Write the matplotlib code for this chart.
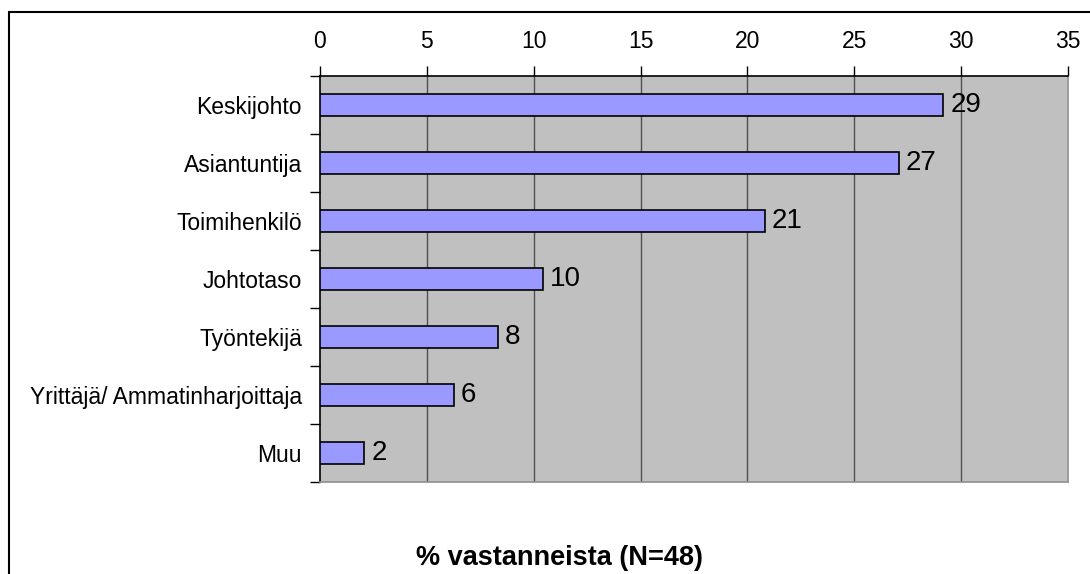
import numpy as np
import matplotlib
matplotlib.use('Agg')
import matplotlib.pyplot as plt
from matplotlib.patches import Rectangle

plt.rcParams['font.family'] = ['Liberation Sans', 'DejaVu Sans']

# data (percent of respondents, N=48)
categories = ['Keskijohto', 'Asiantuntija', 'Toimihenkilö', 'Johtotaso',
              'Työntekijä', 'Yrittäjä/ Ammatinharjoittaja', 'Muu']
values = [29.17, 27.08, 20.83, 10.42, 8.33, 6.25, 2.08]
value_labels = ['29', '27', '21', '10', '8', '6', '2']
xticks = [0, 5, 10, 15, 20, 25, 30, 35]
xlabel = '% vastanneista (N=48)'

W, H = 1090, 574
fig = plt.figure(figsize=(W / 100, H / 100), dpi=100)

# outer chart frame (cut off on right/bottom like the original)
fig.patches.append(Rectangle((9 / W, -0.1), 1.2, 1 - 12 / H + 0.1,
                             transform=fig.transFigure, fill=False,
                             edgecolor='black', linewidth=1.5))

ax = fig.add_axes([320 / W, 1 - 482 / H, (1068 - 320) / W, (482 - 76) / H])
ax.set_facecolor('#c0c0c0')

y = np.arange(len(categories))
ax.barh(y, values, height=0.38, color='#9999ff', edgecolor='black',
        linewidth=1.2, zorder=3)

for yi, v, lab in zip(y, values, value_labels):
    ax.annotate(lab, (v, yi), xytext=(5, 0), textcoords='offset points',
                va='center', ha='left', fontsize=20, zorder=4)

ax.set_xlim(0, 35)
ax.set_ylim(len(categories) - 0.5, -0.5)

ax.xaxis.tick_top()
ax.set_xticks(xticks)
ax.set_xticklabels([str(t) for t in xticks], fontsize=16.5)
ax.tick_params(axis='x', direction='out', length=7, width=1, pad=9.5)
for t in xticks[1:-1]:
    ax.axvline(t, color='#505050', linewidth=1, zorder=1)

ax.set_yticks(y)
ax.set_yticklabels(categories, fontsize=16.5)
ax.tick_params(axis='y', which='major', length=0, pad=13)
ax.set_yticks(np.arange(len(categories) + 1) - 0.5, minor=True)
ax.tick_params(axis='y', which='minor', length=7, width=1, direction='out')

ax.spines['top'].set_color('black')
ax.spines['left'].set_color('black')
ax.spines['right'].set_color('#909090')
ax.spines['bottom'].set_color('#909090')
for s in ax.spines.values():
    s.set_linewidth(1.2)

fig.text(560 / W, 1 - 558 / H, xlabel, ha='center', va='center',
         fontsize=19.5, fontweight='bold')

fig.savefig('out.png', dpi=100)
